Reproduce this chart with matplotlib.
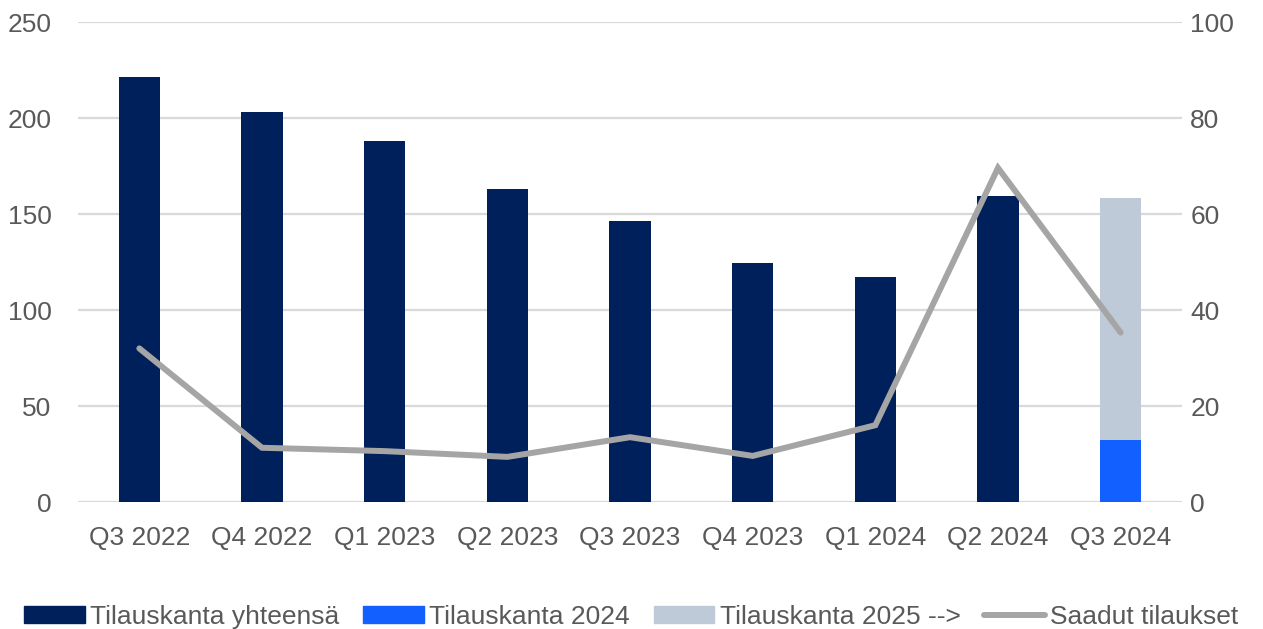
import numpy as np
import matplotlib
matplotlib.use("Agg")
import matplotlib.pyplot as plt
from matplotlib.patches import Patch
from matplotlib.lines import Line2D

plt.rcParams['font.family'] = ['Liberation Sans', 'DejaVu Sans']

categories = ["Q3 2022", "Q4 2022", "Q1 2023", "Q2 2023", "Q3 2023",
              "Q4 2023", "Q1 2024", "Q2 2024", "Q3 2024"]
tilauskanta_yht = [221.5, 203.2, 188.0, 163.0, 146.4, 124.5, 117.3, 159.2, np.nan]
tilauskanta_2024 = [np.nan] * 8 + [32.3]
tilauskanta_2025 = [np.nan] * 8 + [126.2]
saadut_tilaukset = [32.0, 11.3, 10.6, 9.4, 13.5, 9.6, 16.0, 69.6, 35.3]

c_navy = "#00205B"
c_blue = "#1160FF"
c_light = "#BFCAD8"
c_line = "#A5A5A5"
c_grid = "#D9D9D9"
c_text = "#595959"

fig = plt.figure(figsize=(12.63, 6.29), dpi=100)
ax = fig.add_axes([78/1263, 1-502/629, (1182-78)/1263, 480/629])
ax2 = ax.twinx()

x = np.arange(len(categories))
w = 0.335
ax.bar(x, tilauskanta_yht, width=w, color=c_navy, zorder=2)
ax.bar(x, tilauskanta_2024, width=w, color=c_blue, zorder=2)
b2024 = np.nan_to_num(np.array(tilauskanta_2024, dtype=float))
ax.bar(x, tilauskanta_2025, width=w, bottom=b2024, color=c_light, zorder=2)

ax2.plot(x, saadut_tilaukset, color=c_line, lw=4.3, solid_capstyle='round',
         solid_joinstyle='miter', zorder=3)

ax.set_xlim(-0.5, len(categories) - 0.5)
ax.set_ylim(0, 250)
ax.set_yticks(np.arange(0, 251, 50))
ax2.set_ylim(0, 100)
ax2.set_yticks(np.arange(0, 101, 20))
ax.set_xticks(x)
ax.set_xticklabels(categories)

ax.grid(axis='y', color=c_grid, lw=1.6, zorder=0)
ax.set_axisbelow(True)
for a in (ax, ax2):
    for s in a.spines.values():
        s.set_visible(False)
    a.tick_params(length=0, labelsize=19, labelcolor=c_text)
ax.tick_params(axis='y', pad=19)
ax.tick_params(axis='x', pad=17)
ax2.tick_params(axis='y', pad=6)

handles = [Patch(color=c_navy), Patch(color=c_blue), Patch(color=c_light),
           Line2D([0], [0], color=c_line, lw=4.3, solid_capstyle='round')]
labels = ["Tilauskanta yhteensä", "Tilauskanta 2024", "Tilauskanta 2025 -->", "Saadut tilaukset"]
fig.legend(handles, labels, loc='center', bbox_to_anchor=(0.5, 1-617/629), ncol=4,
           frameon=False, fontsize=19, labelcolor=c_text, handlelength=2.3,
           handleheight=0.6, handletextpad=0.2, columnspacing=0.9,
           borderaxespad=0, borderpad=0)

fig.savefig("out.png", dpi=100)
